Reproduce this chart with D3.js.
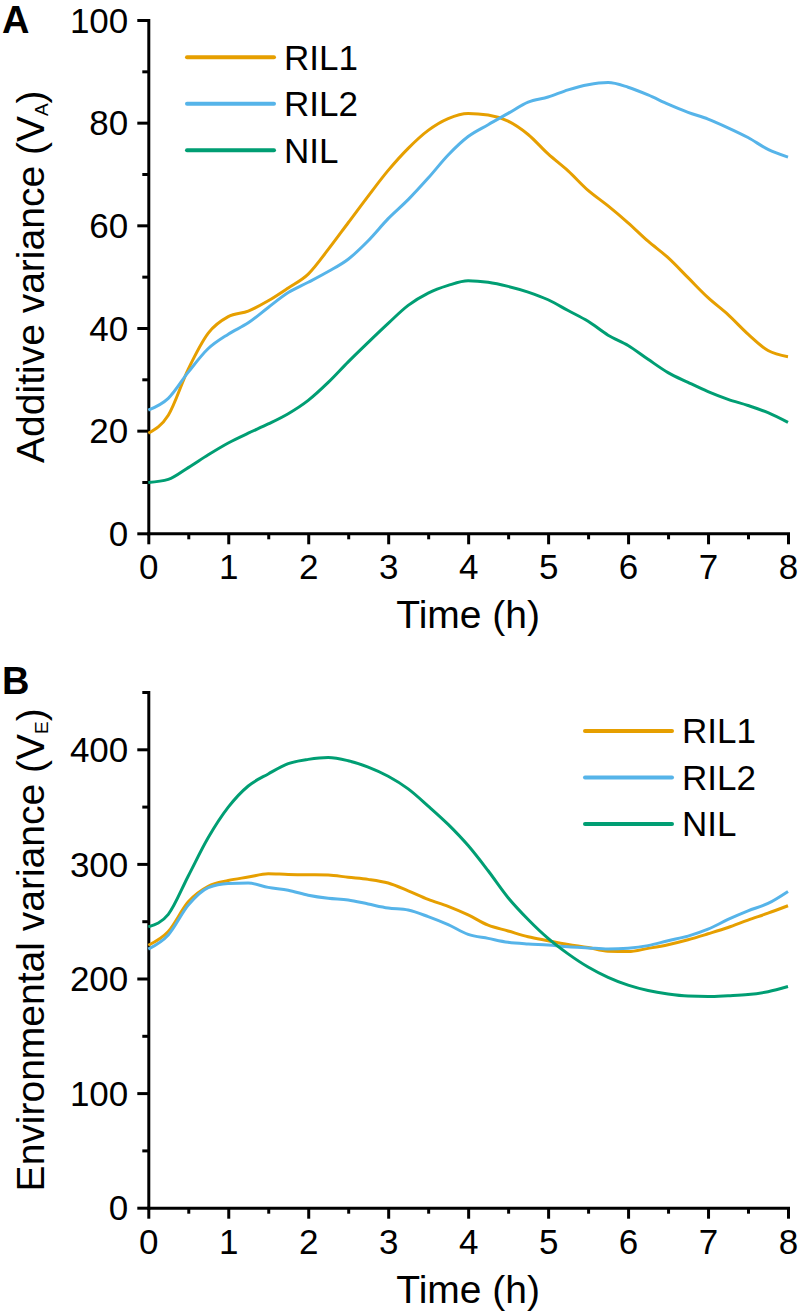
<!DOCTYPE html>
<html>
<head>
<meta charset="utf-8">
<script src="https://cdn.jsdelivr.net/npm/d3@7"></script>
<style>
  html, body { margin: 0; padding: 0; background: #fff; }
  svg { display: block; font-family: "Liberation Sans", Arial, sans-serif; }
</style>
</head>
<body>
<svg id="chart" width="799" height="1315"></svg>
<script>
// ---- data ----
const time = d3.range(0, 33).map(i => i * 0.25); // 0 .. 8 h in 0.25 h steps (x grid)
const seriesNames = ["RIL1", "RIL2", "NIL"];
const seriesColors = ["#E69F00", "#56B4E9", "#009E73"];

// Panel A: additive variance (VA)
const vaRIL1 = [19.5, 23, 32, 39, 42.2, 43.3, 45.3, 47.8, 50.5, 55.3, 60.5, 65.7, 70.7, 75, 78.5, 80.8, 81.8,
  81.5, 80.3, 77.7, 73.9, 70.6, 66.8, 63.8, 60.5, 56.9, 53.7, 49.8, 45.9, 42.6, 38.8, 35.6, 34.4];
const vaRIL2 = [24, 26.3, 31.4, 36, 38.8, 41, 44, 46.9, 48.9, 51, 53.4, 57, 61.3, 65, 69.2, 73.7, 77.3,
  79.6, 81.8, 84, 85, 86.4, 87.4, 87.8, 86.9, 85.4, 83.6, 82, 80.7, 79, 77.1, 74.8, 73.3];
const vaNIL = [9.9, 10.5, 12.8, 15.3, 17.6, 19.5, 21.3, 23.3, 25.9, 29.4, 33.4, 37.2, 40.9, 44.4, 46.8, 48.3, 49.2,
  48.9, 48.1, 47, 45.5, 43.4, 41.3, 38.6, 36.6, 33.9, 31.3, 29.4, 27.6, 26.1, 24.9, 23.5, 21.6];

// Panel B: environmental variance (VE)
const veRIL1 = [229, 241, 267, 280.5, 285.5, 288.5, 291.5, 290.7, 290.5, 290.3, 288.3, 286.5, 283.3, 276.5, 269, 263, 255.5,
  246.5, 241.5, 236.4, 233, 229.7, 227, 223.7, 223.5, 226.3, 229.5, 233.8, 239, 244.5, 251, 257, 263.5];
const veRIL2 = [225.6, 238, 264, 279.3, 283, 283.3, 279.5, 277, 272.7, 270, 268.5, 265, 261.5, 259.7, 254, 247, 238.5,
  235, 231.6, 230.1, 229.2, 227.7, 226.7, 225.7, 226.4, 228.7, 233, 237, 243, 251.5, 259, 265.5, 276];
const veNIL = [245, 256, 289.5, 323, 349.5, 368, 378.5, 387.5, 391.2, 392.8, 390, 384.5, 376.5, 365.5, 350.5, 334.5, 316,
  294, 270.5, 251.5, 235, 221.5, 210, 201, 194.2, 189.5, 186.5, 184.7, 184.3, 185, 186, 188.5, 193];

const xTicks = [0, 1, 2, 3, 4, 5, 6, 7, 8];
const yTicksA = [0, 20, 40, 60, 80, 100];
const yTicksB = [0, 100, 200, 300, 400];

// ---- drawing ----
const svg = d3.select("#chart");
const FS = 35;      // tick + legend text
const TFS = 39;     // axis titles

function panel(cfg) {
  const x = d3.scaleLinear().domain([0, 8]).range([148.3, 788]);
  const y = d3.scaleLinear().domain(cfg.yDomain).range([cfg.y0, cfg.y1]);
  const g = svg.append("g");

  const xMinor = d3.range(0.5, 8, 1);
  const yMinor = cfg.yMinor;

  const xAxis = g.append("g").attr("transform", `translate(0,${cfg.y0})`)
    .call(d3.axisBottom(x).tickValues(xTicks).tickSize(11).tickSizeOuter(0).tickFormat(d3.format("d")));
  g.append("g").attr("transform", `translate(0,${cfg.y0})`)
    .call(d3.axisBottom(x).tickValues(xMinor).tickSize(6).tickSizeOuter(0).tickFormat(""))
    .call(a => a.select(".domain").remove());
  const yAxis = g.append("g").attr("transform", `translate(${x(0)},0)`)
    .call(d3.axisLeft(y).tickValues(cfg.yTicks).tickSize(11).tickSizeOuter(0).tickFormat(d3.format("d")));
  g.append("g").attr("transform", `translate(${x(0)},0)`)
    .call(d3.axisLeft(y).tickValues(yMinor).tickSize(6).tickSizeOuter(0).tickFormat(""))
    .call(a => a.select(".domain").remove());

  g.selectAll(".domain").attr("stroke", "#000").attr("stroke-width", 3)
    .attr("stroke-linecap", "square");
  g.selectAll(".tick line").attr("stroke", "#000").attr("stroke-width", 3);
  g.selectAll(".tick text").attr("fill", "#000").attr("font-size", FS)
    .attr("font-family", "'Liberation Sans', Arial, sans-serif");
  xAxis.selectAll(".tick text").attr("y", 21).attr("dy", "0.71em");
  yAxis.selectAll(".tick text").attr("x", -20).attr("dy", "0.35em");

  // lines
  const line = d3.line().x((d, i) => x(time[i])).y(d => y(d)).curve(d3.curveMonotoneX);
  cfg.series.forEach((vals, k) => {
    g.append("path").datum(vals).attr("d", line).attr("fill", "none")
      .attr("stroke", seriesColors[k]).attr("stroke-width", 3).attr("stroke-linejoin", "round");
  });

  // axis titles
  g.append("text").attr("x", (x(0) + x(8)) / 2).attr("y", cfg.y0 + 95)
    .attr("text-anchor", "middle").attr("font-size", TFS).attr("fill", "#000").text("Time (h)");
  const yt = g.append("text")
    .attr("transform", `translate(44,${(cfg.y0 + cfg.yTop) / 2}) rotate(-90)`)
    .attr("text-anchor", "middle").attr("font-size", TFS).attr("fill", "#000");
  yt.append("tspan").text(cfg.yTitle + " (V");
  yt.append("tspan").attr("font-size", 19).attr("dy", 4).text(cfg.sub);
  yt.append("tspan").attr("dy", -4).text(")");

  // panel letter
  g.append("text").attr("x", 2).attr("y", cfg.letterY).attr("font-size", 38)
    .attr("font-weight", "bold").attr("fill", "#000").text(cfg.letter);

  // legend
  seriesNames.forEach((name, k) => {
    const ly = cfg.legY + k * 46.5;
    g.append("line").attr("x1", cfg.legX).attr("x2", cfg.legX + 87).attr("y1", ly).attr("y2", ly)
      .attr("stroke", seriesColors[k]).attr("stroke-width", 4).attr("stroke-linecap", "round");
    g.append("text").attr("x", cfg.legX + 97).attr("y", ly).attr("dy", "0.35em")
      .attr("font-size", FS).attr("fill", "#000").text(name);
  });
}

panel({
  yDomain: [0, 100], y0: 533.3, y1: 20, yTop: 20,
  yTicks: yTicksA, yMinor: d3.range(10, 100, 20),
  series: [vaRIL1, vaRIL2, vaNIL],
  yTitle: "Additive variance", sub: "A",
  letter: "A", letterY: 33,
  legX: 187, legY: 57.3
});

panel({
  yDomain: [0, 450], y0: 1207.7, y1: 692, yTop: 692,
  yTicks: yTicksB, yMinor: d3.range(50, 451, 100),
  series: [veRIL1, veRIL2, veNIL],
  yTitle: "Environmental variance", sub: "E",
  letter: "B", letterY: 694,
  legX: 585, legY: 731
});
</script>
</body>
</html>
